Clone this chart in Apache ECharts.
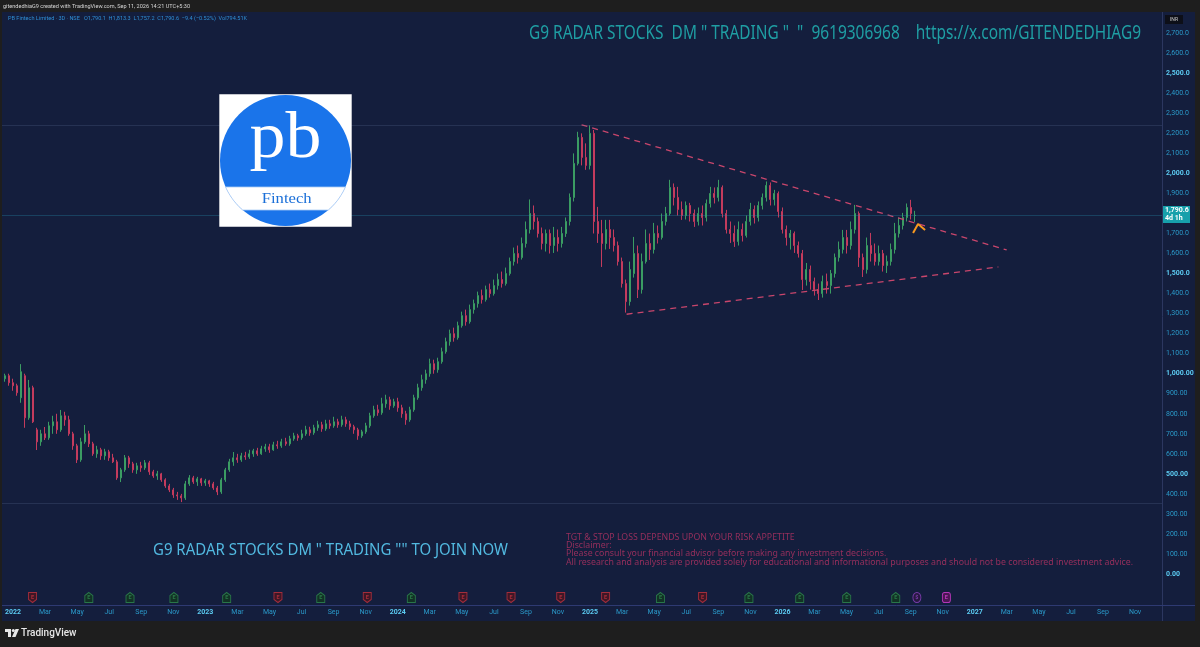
<!DOCTYPE html>
<html><head><meta charset="utf-8">
<script src="https://cdn.jsdelivr.net/npm/echarts@6/dist/echarts.min.js"></script>
<style>html,body{margin:0;padding:0;background:#1e1e1e;}#c{width:1200px;height:647px;}</style>
</head><body><div id="c"></div>
<script>
// ---------- DATA ----------
// bars: [open, close, low, high], 4 bars per month, first bar at month index -0.5 (Jan 2022 = 0)
const startMonth = -0.5;
const barsPerMonth = 4;
const bars2021 = [[975,990,960,1000],[990,955,940,1000]];
const bars2022 = [
 [955,940,915,975],[940,905,890,950],[880,1010,855,1048],[990,780,730,1000],
 [780,930,770,969],[930,760,754,940],[720,660,619,730],[660,700,640,720],
 [700,680,669,734],[680,740,670,760],[740,760,700,790],[760,720,700,800],
 [720,790,710,819],[790,770,740,810],[770,700,690,790],[700,640,620,710],
 [640,570,554,650],[570,660,560,680],[660,700,650,744],[700,650,634,715],
 [650,600,590,660],[600,620,580,640],[620,590,570,630],[590,610,570,625],
 [610,580,565,620],[580,560,554,600],[560,480,470,570],[480,520,459,530],
 [520,580,510,594],[580,550,530,590],[550,520,505,560],[520,540,500,555],
 [540,530,510,560],[530,555,520,569],[555,510,495,565],[510,490,480,520],
 [490,500,470,515],[500,470,460,505],[470,440,430,478],[440,420,409,450],
 [420,395,380,430],[395,390,370,410],[390,380,359,400],[380,450,370,465],
 [450,480,440,494],[480,460,450,490],[460,475,440,485],[475,455,440,480]
];
const bars2023 = [
 [455,465,440,475],[465,450,435,470],[450,430,420,460],[430,410,394,440],
 [410,470,400,480],[470,520,460,530],[520,560,510,575],[560,580,540,609],
 [580,570,555,600],[570,590,560,605],[590,585,570,610],[585,600,575,620],
 [600,615,585,625],[615,600,590,630],[600,625,595,640],[625,635,610,650],
 [635,620,605,650],[620,645,615,660],[645,640,625,665],[640,660,630,675],
 [660,650,640,680],[650,675,640,690],[675,690,665,705],[690,680,665,700],
 [680,700,670,720],[700,720,690,740],[720,705,690,735],[705,730,695,745],
 [730,745,715,765],[745,725,710,760],[725,750,715,770],[750,740,725,770],
 [740,760,730,785],[760,745,730,775],[745,770,735,790],[770,750,735,785],
 [750,735,720,765],[735,720,700,745],[720,690,670,730],[690,710,680,720],
 [710,740,700,755],[740,790,730,805],[790,820,780,840],[820,805,790,845],
 [805,850,795,880],[850,870,830,895],[870,840,820,885],[840,860,830,875]
];
const bars2024 = [
 [860,830,810,880],[830,800,780,845],[800,770,745,815],[770,820,760,835],
 [820,880,810,895],[880,930,870,950],[930,970,915,995],[970,1000,950,1020],
 [1000,1050,985,1075],[1050,1020,1000,1070],[1020,1060,1005,1080],[1060,1110,1050,1130],
 [1110,1160,1100,1180],[1160,1200,1140,1220],[1200,1180,1160,1230],[1180,1240,1170,1260],
 [1240,1290,1230,1310],[1290,1260,1240,1320],[1260,1320,1250,1345],[1320,1350,1300,1370],
 [1350,1390,1330,1410],[1390,1370,1350,1420],[1370,1420,1360,1440],[1420,1400,1380,1450],
 [1400,1440,1390,1470],[1440,1470,1420,1500],[1470,1450,1430,1510],[1450,1500,1440,1530],
 [1500,1560,1490,1580],[1560,1600,1540,1630],[1600,1580,1550,1640],[1580,1650,1570,1680],
 [1650,1720,1630,1760],[1720,1800,1700,1870],[1800,1760,1720,1840],[1760,1700,1680,1780],
 [1700,1650,1620,1730],[1650,1700,1610,1720],[1700,1640,1600,1720],[1640,1680,1603,1733],
 [1680,1650,1610,1720],[1650,1700,1630,1733],[1700,1760,1683,1780],[1760,1880,1740,1900],
 [1880,2050,1860,2100],[2050,2180,2040,2208],[2180,2080,2040,2200],[2080,2040,2018,2150]
];
const bars2025 = [
 [2040,2200,2020,2240],[2200,1760,1700,2217],[1760,1700,1653,1833],[1700,1650,1533,1768],
 [1650,1720,1620,1768],[1720,1680,1623,1768],[1680,1640,1610,1720],[1640,1560,1540,1660],
 [1560,1450,1430,1580],[1450,1360,1305,1470],[1360,1520,1340,1560],[1500,1600,1480,1683],
 [1600,1420,1378,1640],[1420,1560,1400,1600],[1560,1650,1550,1720],[1650,1620,1568,1700],
 [1620,1700,1600,1753],[1700,1680,1650,1740],[1680,1760,1670,1800],[1760,1800,1740,1833],
 [1800,1930,1790,1968],[1930,1880,1840,1950],[1880,1820,1790,1933],[1820,1790,1768,1860],
 [1790,1840,1770,1860],[1840,1800,1760,1853],[1800,1760,1733,1820],[1760,1800,1740,1830],
 [1800,1780,1740,1840],[1780,1850,1760,1870],[1850,1900,1830,1933],[1900,1880,1850,1930],
 [1880,1930,1860,1968],[1930,1800,1780,1940],[1800,1720,1700,1818],[1720,1700,1653,1760],
 [1700,1660,1633,1740],[1660,1720,1640,1760],[1720,1690,1660,1750],[1690,1760,1680,1790],
 [1760,1820,1740,1853],[1820,1780,1750,1840],[1780,1840,1760,1860],[1840,1880,1820,1900],
 [1880,1940,1860,1960],[1940,1870,1840,1955],[1870,1900,1840,1918],[1900,1810,1780,1910]
];
const bars2026 = [
 [1810,1720,1700,1830],[1720,1680,1640,1740],[1680,1700,1620,1718],[1700,1640,1603,1710],
 [1640,1600,1580,1660],[1600,1470,1418,1618],[1470,1520,1440,1553],[1520,1460,1420,1540],
 [1460,1420,1390,1480],[1420,1400,1368,1450],[1400,1460,1380,1490],[1460,1440,1400,1500],
 [1440,1500,1400,1518],[1500,1580,1480,1600],[1580,1620,1560,1660],[1620,1680,1600,1718],
 [1680,1640,1600,1718],[1640,1720,1620,1760],[1720,1800,1700,1843],[1800,1580,1533,1810],
 [1580,1520,1483,1600],[1520,1640,1500,1680],[1640,1600,1560,1703],[1600,1560,1540,1650],
 [1560,1600,1540,1640],[1600,1540,1510,1618],[1540,1560,1503,1590],[1560,1620,1540,1650],
 [1620,1700,1600,1753],[1700,1740,1680,1780],[1740,1780,1720,1803],[1780,1830,1760,1850],
 [1830,1800,1770,1868],[1790.1,1790.6,1757.2,1813.3]
];
// trend lines and drawings (month index, price)
const upperTrend = [[35.47, 2243], [61.99, 1618]];
const lowerTrend = [[38.28, 1297], [61.47, 1533]];
const arrowMark = [[56.15, 1703], [56.46, 1748], [56.9, 1718]];
const athLevel = 2242;
const lowLevel = 355;
const lastClose = 1790.6;
// events (month index)
const earningsMiss = [1.22, 16.53, 22.1, 28.07, 31.07, 34.17, 36.97, 43.02];
const earningsBeat = [4.73, 7.3, 10.04, 13.33, 19.2, 24.85, 40.39, 45.91, 49.08, 52.01, 55.07];
const dividendEvents = [56.39];
const upcomingEarnings = [58.23];
// axis labels
const monthNames = ['Jan','Feb','Mar','Apr','May','Jun','Jul','Aug','Sep','Oct','Nov','Dec'];
const baseYear = 2022;

// ---------- BUILD ----------
const allBars = [].concat(bars2021, bars2022, bars2023, bars2024, bars2025, bars2026);
const candleData = allBars.map((b, i) => [startMonth + i / barsPerMonth, b[0], b[1], b[2], b[3]]);

const NAVY = '#141e3d';
const DARK = '#1e1e1e';
const xMin = -0.811, xMax = 71.68;

const ctx = document.createElement('canvas').getContext('2d');
function tw(t, font) { ctx.font = font; return ctx.measureText(t).width; }
function fitText(t, x0, x1, yc, font, fill, z) {
  const w = tw(t, font);
  return { type: 'text', x: x0, y: yc, scaleX: (x1 - x0) / w, z: z || 50, silent: true,
    style: { text: t, x: 0, y: 0, font: font, fill: fill, align: 'left', verticalAlign: 'middle' } };
}
function bandPoints(cx, cy, r, y1, y2) {
  const pts = [], N = 14;
  for (let i = 0; i <= N; i++) { const y = y1 + (y2 - y1) * i / N; pts.push([cx + Math.sqrt(r * r - (y - cy) * (y - cy)), y]); }
  for (let i = N; i >= 0; i--) { const y = y1 + (y2 - y1) * i / N; pts.push([cx - Math.sqrt(r * r - (y - cy) * (y - cy)), y]); }
  return pts;
}

function priceFmt(v) {
  if (v < 0 || v > 2700) return '';
  const s = v >= 1100
    ? v.toLocaleString('en-US', { minimumFractionDigits: 1, maximumFractionDigits: 1 })
    : v.toLocaleString('en-US', { minimumFractionDigits: 2, maximumFractionDigits: 2 });
  return v % 500 === 0 ? '{b|' + s + '}' : s;
}
function timeFmt(v) {
  if (Math.abs(v - Math.round(v)) > 1e-6) return '';
  const r = Math.round(v);
  if (r < 0) return '';
  const mo = ((r % 12) + 12) % 12;
  return mo === 0 ? '{y|' + (baseYear + Math.floor(r / 12)) + '}' : monthNames[mo];
}

const logoCx = 285.5, logoCy = 160.5, logoR = 65.5;
const disclaimer = [
  'TGT & STOP LOSS DEPENDS UPON YOUR RISK APPETITE',
  'Disclaimer:',
  'Please consult your financial advisor before making any investment decisions.',
  'All research and analysis are provided solely for educational and informational purposes and should not be considered investment advice.'
];
const discFont = '8px "Noto Sans"';
const discLeft = 566;
const discScale = (1133 - discLeft) / tw(disclaimer[3], discFont);

const graphics = [
  { type: 'rect', shape: { x: 0, y: 0, width: 1200, height: 12 }, style: { fill: DARK }, z: 40, silent: true },
  { type: 'rect', shape: { x: 0, y: 621, width: 1200, height: 26 }, style: { fill: DARK }, z: 40, silent: true },
  { type: 'rect', shape: { x: 1195, y: 0, width: 5, height: 647 }, style: { fill: DARK }, z: 40, silent: true },
  { type: 'rect', shape: { x: 0, y: 0, width: 2, height: 647 }, style: { fill: DARK }, z: 40, silent: true },
  { type: 'line', shape: { x1: 1162.5, y1: 12, x2: 1162.5, y2: 621 }, style: { stroke: '#2c3760', lineWidth: 1 }, z: 41, silent: true },
  { type: 'line', shape: { x1: 2, y1: 605.5, x2: 1195, y2: 605.5 }, style: { stroke: '#2e3a72', lineWidth: 1 }, z: 41, silent: true },
  fitText('gitendedhiaG9 created with TradingView.com, Sep 11, 2026 14:21 UTC+5:30', 3, 190, 6, '6px Roboto', '#d6d6d6', 45),
  fitText('PB Fintech Limited · 3D · NSE   O1,790.1  H1,813.3  L1,757.2  C1,790.6  −9.4 (−0.52%)  Vol794.51K', 8, 247, 18.5, '6px Roboto', '#2f8fd6', 45),
  fitText('G9 RADAR STOCKS  DM " TRADING "  "  9619306968    https://x.com/GITENDEDHIAG9', 529, 1141, 33, '20px "Noto Sans"', '#1f9ea3', 45),
  fitText('G9 RADAR STOCKS DM " TRADING "" TO JOIN NOW', 153, 508, 550, '17px "Noto Sans"', '#52b9e0', 45),
  // INR box
  { type: 'rect', shape: { x: 1165, y: 15, width: 18, height: 9 }, style: { fill: '#0d0f18' }, z: 45, silent: true },
  { type: 'text', x: 1174, y: 19.5, z: 46, silent: true, style: { text: 'INR', font: '5px Roboto', fill: '#c8c8c8', align: 'center', verticalAlign: 'middle' } },
  // last price tag
  { type: 'rect', shape: { x: 1163, y: 206, width: 27, height: 17 }, style: { fill: '#17a0ab' }, z: 45, silent: true },
  { type: 'text', x: 1165, y: 210.5, z: 46, silent: true, style: { text: '1,790.6', font: 'bold 7px Roboto', fill: '#ffffff', align: 'left', verticalAlign: 'middle' } },
  { type: 'text', x: 1165, y: 218.5, z: 46, silent: true, style: { text: '4d 1h', font: 'bold 7px Roboto', fill: '#ffffff', align: 'left', verticalAlign: 'middle' } },
  // logo
  { type: 'rect', shape: { x: 219.3, y: 94.3, width: 132.4, height: 132.4 }, style: { fill: '#ffffff' }, z: 60, silent: true },
  { type: 'circle', shape: { cx: logoCx, cy: logoCy, r: logoR }, style: { fill: '#1a74ea' }, z: 61, silent: true },
  { type: 'polygon', shape: { points: bandPoints(logoCx, logoCy, logoR, 187, 210) }, style: { fill: '#ffffff', stroke: '#a9cbf5', lineWidth: 0.8 }, z: 62, silent: true },
  fitText('pb', 249.5, 321.5, 140, '66px "Liberation Serif"', '#ffffff', 63),
  fitText('Fintech', 261.7, 311.7, 199, '15px "Liberation Serif"', '#1a6fd8', 63),
  // TradingView logo
  { type: 'rect', shape: { x: 5, y: 629, width: 6, height: 3 }, style: { fill: '#e8e8e8' }, z: 45, silent: true },
  { type: 'rect', shape: { x: 8, y: 629, width: 3, height: 8 }, style: { fill: '#e8e8e8' }, z: 45, silent: true },
  { type: 'circle', shape: { cx: 13.3, cy: 630.5, r: 1.5 }, style: { fill: '#e8e8e8' }, z: 45, silent: true },
  { type: 'polygon', shape: { points: [[15.5, 629], [19, 629], [15.5, 637], [12, 637]] }, style: { fill: '#e8e8e8' }, z: 45, silent: true },
  fitText('TradingView', 21, 76.5, 633, '500 11px Roboto', '#e8e8e8', 45)
];
disclaimer.forEach((t, i) => {
  graphics.push({ type: 'text', x: discLeft, y: 537.8 + i * 8.2, scaleX: discScale, z: 45, silent: true,
    style: { text: t, x: 0, y: 0, font: discFont, fill: '#962f5c', align: 'left', verticalAlign: 'middle' } });
});

function eventSeries(list, symbol, fill, stroke, letter) {
  return {
    type: 'scatter', xAxisIndex: 1, yAxisIndex: 1, silent: true, z: 5,
    symbol: symbol, symbolSize: [8, 10],
    data: list.map(m => [m, 0.5]),
    itemStyle: { color: fill, borderColor: stroke, borderWidth: 1 },
    label: { show: true, position: 'inside', formatter: letter, fontSize: 5.5, fontWeight: 'bold', color: stroke, fontFamily: 'Roboto' }
  };
}

const option = {
  animation: false,
  backgroundColor: NAVY,
  grid: [
    { left: 0, width: 1162, top: 13.2, height: 600.86, outerBoundsMode: 'none', containLabel: false },
    { left: 13, width: 1149, top: 590, height: 15, outerBoundsMode: 'none', containLabel: false }
  ],
  xAxis: [
    { type: 'value', gridIndex: 0, min: xMin, max: xMax, show: false, splitLine: { show: false } },
    { type: 'value', gridIndex: 1, min: 0, max: xMax, interval: 2,
      axisLine: { show: false },
      axisTick: { show: false }, splitLine: { show: false },
      axisLabel: { formatter: timeFmt, color: '#2a98c8', fontSize: 7, fontFamily: 'Roboto', margin: 4, showMinLabel: true, showMaxLabel: false,
        rich: { y: { color: '#5ccbf2', fontSize: 7, fontWeight: 'bold', fontFamily: 'Roboto' } } } }
  ],
  yAxis: [
    { type: 'value', gridIndex: 0, position: 'right', min: -200, max: 2800, interval: 100,
      axisLine: { show: false }, axisTick: { show: false }, splitLine: { show: false },
      axisLabel: { formatter: priceFmt, color: '#2a98c8', fontSize: 7, fontFamily: 'Roboto', margin: 4,
        rich: { b: { color: '#5ccbf2', fontSize: 7, fontWeight: 'bold', fontFamily: 'Roboto' } } } },
    { type: 'value', gridIndex: 1, min: 0, max: 1, show: false }
  ],
  graphic: graphics,
  series: [
    {
      type: 'candlestick', xAxisIndex: 0, yAxisIndex: 0, data: candleData,
      encode: { x: 0, y: [1, 2, 3, 4] },
      barWidth: 1.5,
      itemStyle: { color: '#3b9c63', color0: '#c43b5d', borderColor: '#3b9c63', borderColor0: '#c43b5d', borderWidth: 1 },
      markLine: { silent: true, symbol: ['none', 'none'], label: { show: false },
        data: [
          { yAxis: athLevel, lineStyle: { color: 'rgba(110,130,175,0.2)', width: 1, type: 'solid' } },
          { yAxis: lowLevel, lineStyle: { color: 'rgba(110,130,175,0.2)', width: 1, type: 'solid' } },
          { yAxis: lastClose, lineStyle: { color: 'rgba(40,150,180,0.3)', width: 1, type: 'solid' } }
        ] }
    },
    { type: 'line', xAxisIndex: 0, yAxisIndex: 0, data: upperTrend, symbol: 'none', silent: true, z: 4,
      lineStyle: { color: '#c9466c', width: 1.3, type: [6, 5] } },
    { type: 'line', xAxisIndex: 0, yAxisIndex: 0, data: lowerTrend, symbol: 'none', silent: true, z: 4,
      lineStyle: { color: '#c9466c', width: 1.3, type: [6, 5] } },
    { type: 'line', xAxisIndex: 0, yAxisIndex: 0, data: arrowMark, symbol: 'none', silent: true, z: 6,
      lineStyle: { color: '#f7981f', width: 2 } },
    eventSeries(earningsMiss, 'path://M0,0 L10,0 L10,9 L5,13 L0,9 Z', '#4a1520', '#c2323f', 'E'),
    eventSeries(earningsBeat, 'path://M5,0 L10,4 L10,13 L0,13 L0,4 Z', '#12371f', '#2f8a50', 'E'),
    eventSeries(dividendEvents, 'circle', '#2c1640', '#8e44c4', '$'),
    eventSeries(upcomingEarnings, 'roundRect', '#5a145a', '#d43fd4', 'E')
  ]
};

const chart = echarts.init(document.getElementById('c'), null, { renderer: 'canvas', width: 1200, height: 647 });
chart.setOption(option);
</script></body></html>
